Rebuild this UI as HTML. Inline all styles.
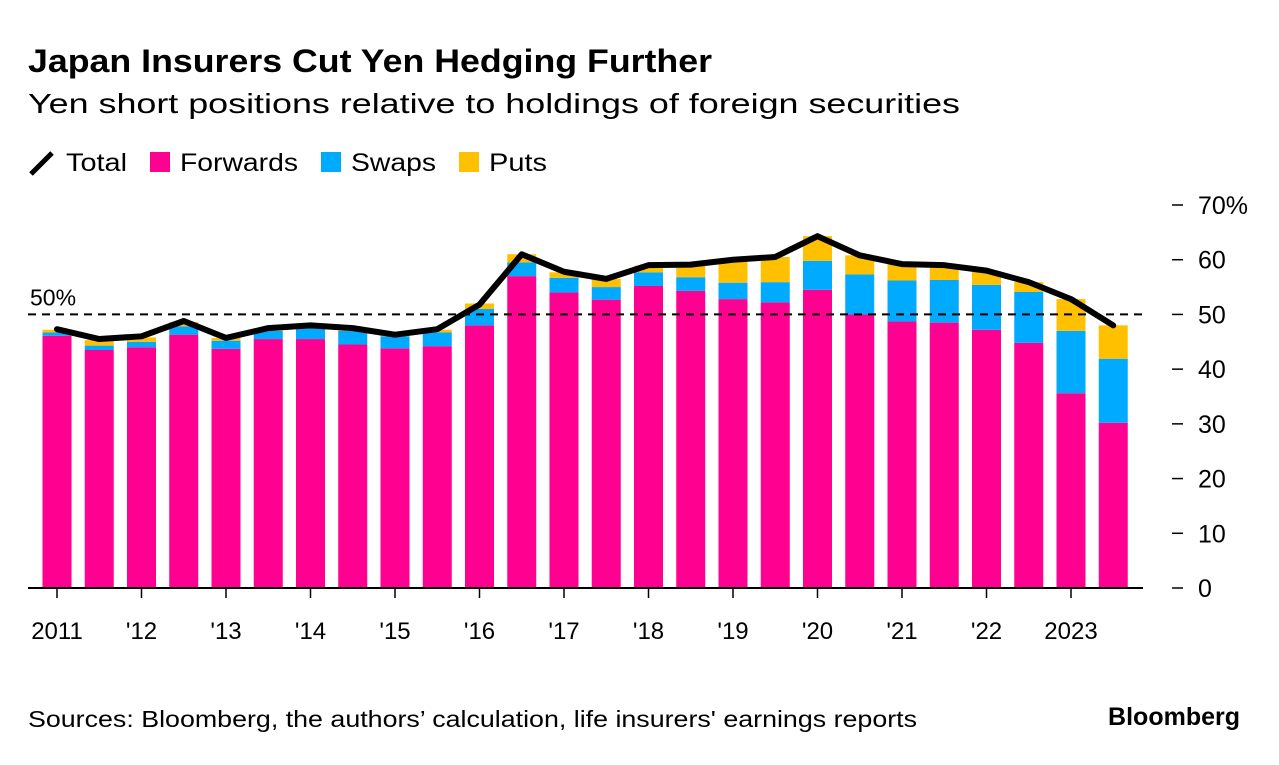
<!DOCTYPE html>
<html><head><meta charset="utf-8"><style>
body{margin:0;background:#fff;font-family:"Liberation Sans",sans-serif;}
svg text{font-family:"Liberation Sans",sans-serif;}
</style></head><body>
<svg width="1279" height="760" viewBox="0 0 1279 760" xmlns="http://www.w3.org/2000/svg">
<text x="28" y="72" font-size="32" font-weight="bold" fill="#000" textLength="684" lengthAdjust="spacingAndGlyphs">Japan Insurers Cut Yen Hedging Further</text>
<text x="28" y="113" font-size="28" fill="#000" textLength="932" lengthAdjust="spacingAndGlyphs">Yen short positions relative to holdings of foreign securities</text>
<g>
<line x1="31" y1="174" x2="52" y2="153" stroke="#000" stroke-width="5"/>
<text x="66" y="171" font-size="25" textLength="61" lengthAdjust="spacingAndGlyphs">Total</text>
<rect x="150" y="152" width="20" height="20" fill="#ff0090"/>
<text x="180" y="171" font-size="25" textLength="118" lengthAdjust="spacingAndGlyphs">Forwards</text>
<rect x="321" y="152" width="20" height="20" fill="#00aaff"/>
<text x="351" y="171" font-size="25" textLength="85" lengthAdjust="spacingAndGlyphs">Swaps</text>
<rect x="459" y="152" width="20" height="20" fill="#ffc000"/>
<text x="489" y="171" font-size="25" textLength="58" lengthAdjust="spacingAndGlyphs">Puts</text>
</g>
<g id="plot"></g>
<text x="28" y="727" font-size="23" textLength="889" lengthAdjust="spacingAndGlyphs">Sources: Bloomberg, the authors’ calculation, life insurers' earnings reports</text>
<text x="1240" y="725" font-size="25" font-weight="bold" text-anchor="end">Bloomberg</text>
</svg>
<script>
const forwards=[46.1,43.5,44,46.3,43.7,45.5,45.5,44.5,43.8,44.2,48,57,54,52.7,55.2,54.3,52.8,52.2,54.5,50,48.7,48.5,47.2,44.8,35.6,30.2];
const swaps=[0.6,0.8,1,1.5,1.5,1.5,2,2.5,2.2,2.5,3,2.5,2.7,2.3,2.5,2.5,3,3.7,5.3,7.3,7.5,7.8,8.2,9.3,11.4,11.7];
const puts=[0.5,1,0.8,0.8,0.5,0.5,0.5,0.5,0.3,0.5,1,1.5,1,1.5,1.2,2.3,4.2,4.6,4.5,3.5,3,2.7,2.5,1.8,5.8,6.1];
const totals=[47.3,45.5,46,48.8,45.7,47.5,48,47.5,46.3,47.3,51.8,61,57.8,56.5,59,59.1,60,60.5,64.3,60.8,59.2,59,58,55.9,52.8,48];
const yTicks=[0,10,20,30,40,50,60,70];
const xLabels=["2011","'12","'13","'14","'15","'16","'17","'18","'19","'20","'21","'22","2023"];
const NS="http://www.w3.org/2000/svg";
const g=document.getElementById('plot');
const y=v=>588-v*(383/70);
const x=i=>57+i*42.25;
const bw=29;
function mk(t,a){const e=document.createElementNS(NS,t);for(const k in a)e.setAttribute(k,a[k]);g.appendChild(e);return e;}
forwards.forEach((f,i)=>{
 const s=swaps[i],p=puts[i];
 let r=mk('rect',{x:x(i)-bw/2,y:y(f),width:bw,height:y(0)-y(f),fill:'#ff0090'});
 
 
 r=mk('rect',{x:x(i)-bw/2,y:y(f+s),width:bw,height:y(f)-y(f+s),fill:'#00aaff'});
 
 
 r=mk('rect',{x:x(i)-bw/2,y:y(f+s+p),width:bw,height:y(f+s)-y(f+s+p),fill:'#ffc000'});
 
 
});
let l=mk('line',{x1:28,x2:1143,y1:y(50),y2:y(50),stroke:'#000','stroke-width':2,'stroke-dasharray':'8,6'});


let t=mk('text',{x:30,y:y(50)-9,'font-size':23});t.textContent='50%';


let pl=mk('polyline',{points:totals.map((v,i)=>x(i)+','+y(v)).join(' '),fill:'none',stroke:'#000','stroke-width':6,'stroke-linejoin':'round','stroke-linecap':'round'});


l=mk('line',{x1:28,x2:1143,y1:y(0),y2:y(0),stroke:'#000','stroke-width':2});


yTicks.forEach(v=>{
 const tk=mk('line',{x1:1172,x2:1183,y1:y(v),y2:y(v),stroke:'#000','stroke-width':1.5});
 
 
 const tx=mk('text',{x:1198,y:y(v)+9,'font-size':25});
 tx.textContent=(v===70?'70%':v);
 
 
});
xLabels.forEach((s,k)=>{
 const cx=x(k*2);
 const tk=mk('line',{x1:cx,x2:cx,y1:588,y2:598,stroke:'#000','stroke-width':1.5});
 
 
 const tx=mk('text',{x:cx,y:639,'font-size':24,'text-anchor':'middle'});
 tx.textContent=s;
 
 
});
</script>
</body></html>
